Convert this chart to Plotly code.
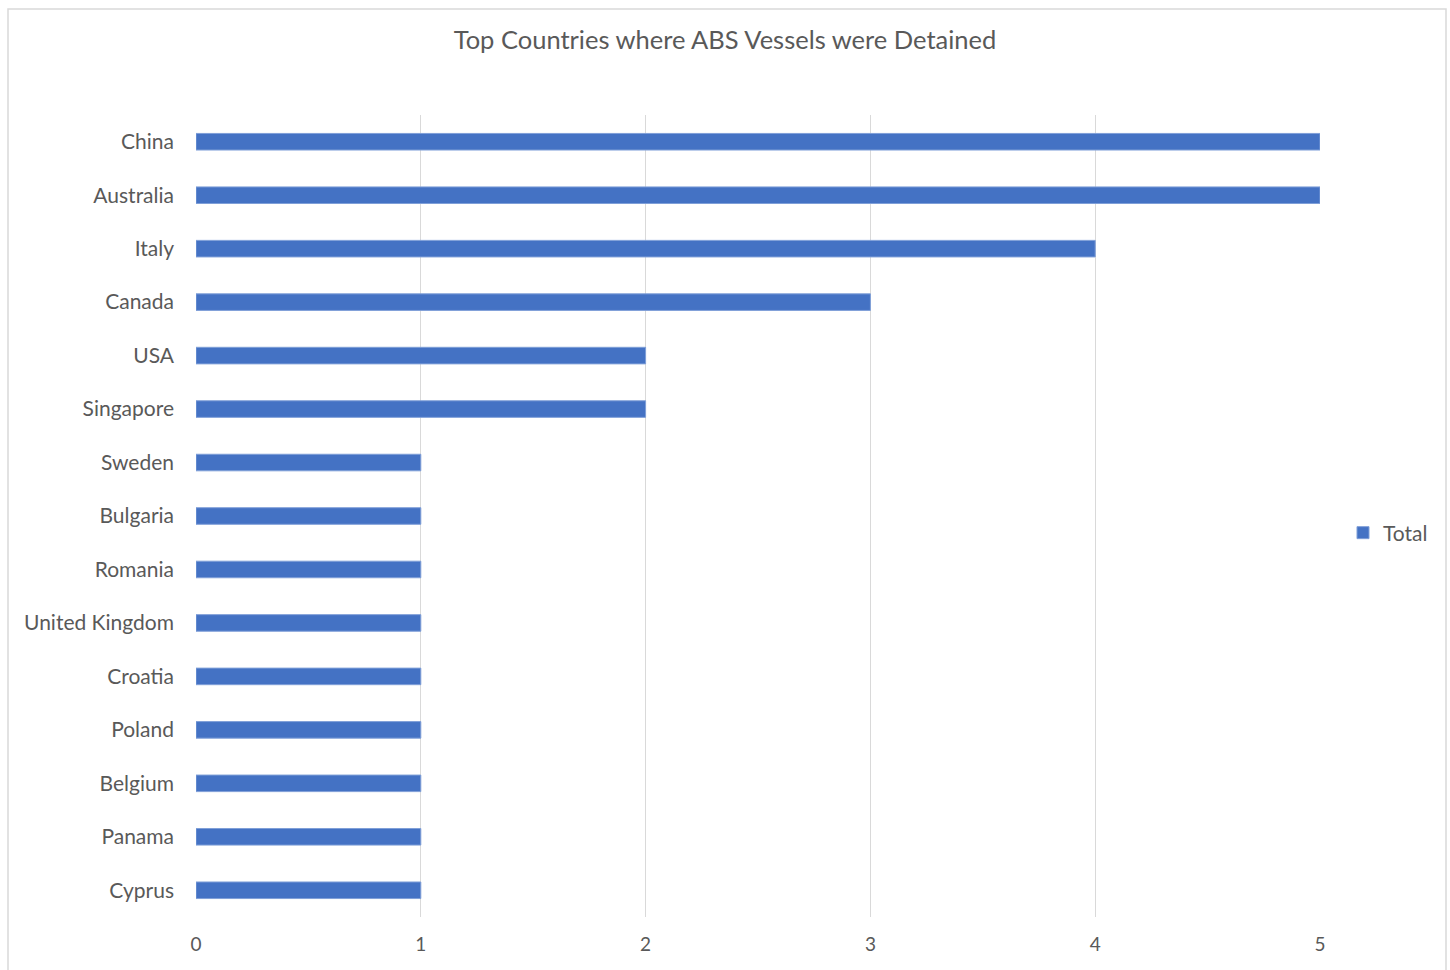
import plotly.graph_objects as go

countries = ["China", "Australia", "Italy", "Canada", "USA", "Singapore", "Sweden",
             "Bulgaria", "Romania", "United Kingdom", "Croatia", "Poland", "Belgium",
             "Panama", "Cyprus"]
totals = [5, 5, 4, 3, 2, 2, 1, 1, 1, 1, 1, 1, 1, 1, 1]
x_ticks = [0, 1, 2, 3, 4, 5]

W, H = 1450, 970
L, R, T, B = 196, 130, 115, 53
pw, ph = W - L - R, H - T - B

fig = go.Figure()
fig.add_trace(go.Bar(
    y=countries, x=totals, orientation="h", name="Total",
    marker=dict(color="#4472C4", line=dict(color="#7F9FD8", width=1)),
    width=0.31,
))

font_family = "Lato, Open Sans, sans-serif"
fig.update_layout(
    width=W, height=H,
    margin=dict(l=L, r=R, t=T, b=B),
    paper_bgcolor="white", plot_bgcolor="white",
    title=dict(text="Top Countries where ABS Vessels were Detained",
               x=0.5, xanchor="center", y=1 - 40 / H, yanchor="middle",
               font=dict(family=font_family, size=25.5, color="#595959")),
    font=dict(family=font_family, size=19, color="#595959"),
    showlegend=True,
    legend=dict(x=(1343 - L) / pw, xanchor="left", y=(H - B - 533) / ph, yanchor="middle",
                font=dict(size=21, color="#595959"), itemwidth=30,
                bgcolor="rgba(0,0,0,0)"),
    bargap=0.7,
)
fig.update_xaxes(range=[0, 5], tickvals=x_ticks, showgrid=True, gridcolor="#D9D9D9",
                 gridwidth=1, zeroline=False, showline=False, ticks="",
                 tickfont=dict(size=19, color="#595959"), ticklabelstandoff=14)
fig.update_yaxes(categoryorder="array", categoryarray=countries[::-1],
                 showgrid=False, zeroline=False, showline=False, ticks="",
                 tickfont=dict(size=21, color="#595959"), ticklabelstandoff=21)

# chart border
fig.add_shape(type="rect", xref="paper", yref="paper",
              x0=(8 - L) / pw, x1=(1446 - L) / pw,
              y0=(H - B - 990) / ph, y1=(H - B - 9) / ph,
              line=dict(color="#D9D9D9", width=1.5), fillcolor="rgba(0,0,0,0)",
              layer="below")

fig.write_html("out.html")
